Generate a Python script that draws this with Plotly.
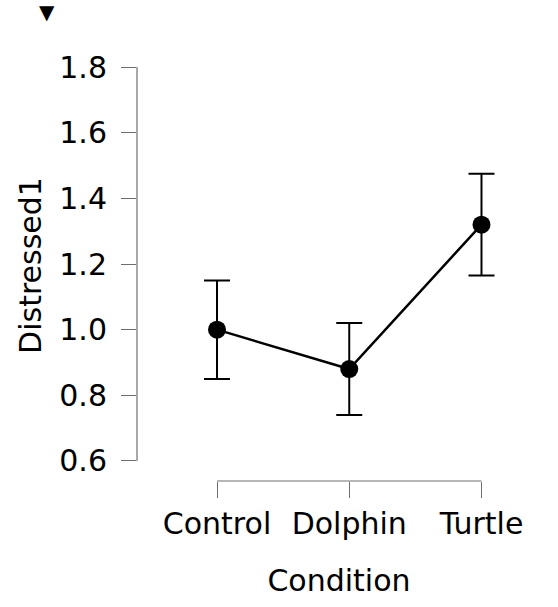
import plotly.graph_objects as go

categories = ["Control", "Dolphin", "Turtle"]
means = [1.00, 0.88, 1.32]
err_upper = [0.15, 0.14, 0.155]
err_lower = [0.15, 0.14, 0.155]
y_ticks = [0.6, 0.8, 1.0, 1.2, 1.4, 1.6, 1.8]
y_tick_labels = ["0.6", "0.8", "1.0", "1.2", "1.4", "1.6", "1.8"]

FONT = "DejaVu Sans"
AXIS_COLOR = "#6e6e6e"
FS = 30

fig = go.Figure()
fig.add_trace(go.Scatter(
    x=list(range(len(categories))),
    y=means,
    mode="lines+markers",
    line=dict(color="black", width=2.5),
    marker=dict(color="black", size=18),
    error_y=dict(type="data", symmetric=False, array=err_upper, arrayminus=err_lower,
                 color="black", thickness=2, width=13),
    showlegend=False,
))

# JASP-style axis lines spanning only the tick range
fig.add_shape(type="line", xref="paper", yref="y", x0=0, x1=0,
              y0=y_ticks[0], y1=y_ticks[-1], line=dict(color=AXIS_COLOR, width=1.2))
fig.add_shape(type="line", xref="x", yref="paper", x0=0, x1=len(categories) - 1,
              y0=0, y1=0, line=dict(color=AXIS_COLOR, width=1.2))

fig.add_annotation(text="▼", xref="paper", yref="paper", x=-0.247, y=1.121,
                   showarrow=False, font=dict(family=FONT, size=20, color="black"))

fig.update_layout(
    width=558, height=607,
    margin=dict(l=137, r=17, t=50, b=126),
    paper_bgcolor="white", plot_bgcolor="white",
    font=dict(family=FONT, size=FS, color="black"),
    xaxis=dict(
        range=[-0.605, 2.45],
        tickmode="array", tickvals=list(range(len(categories))), ticktext=categories,
        ticks="outside", ticklen=16, tickcolor=AXIS_COLOR, tickwidth=1.2,
        ticklabelstandoff=0,
        showline=False, showgrid=False, zeroline=False,
        title=dict(text="Condition", standoff=29, font=dict(size=FS)),
        tickfont=dict(size=FS),
    ),
    yaxis=dict(
        range=[0.539, 1.852],
        tickmode="array", tickvals=y_ticks, ticktext=y_tick_labels,
        ticks="outside", ticklen=15, tickcolor=AXIS_COLOR, tickwidth=1.2,
        ticklabelstandoff=8,
        showline=False, showgrid=False, zeroline=False,
        title=dict(text="Distressed1", standoff=8, font=dict(size=FS)),
        tickfont=dict(size=FS),
    ),
)

fig.write_html("out.html")
